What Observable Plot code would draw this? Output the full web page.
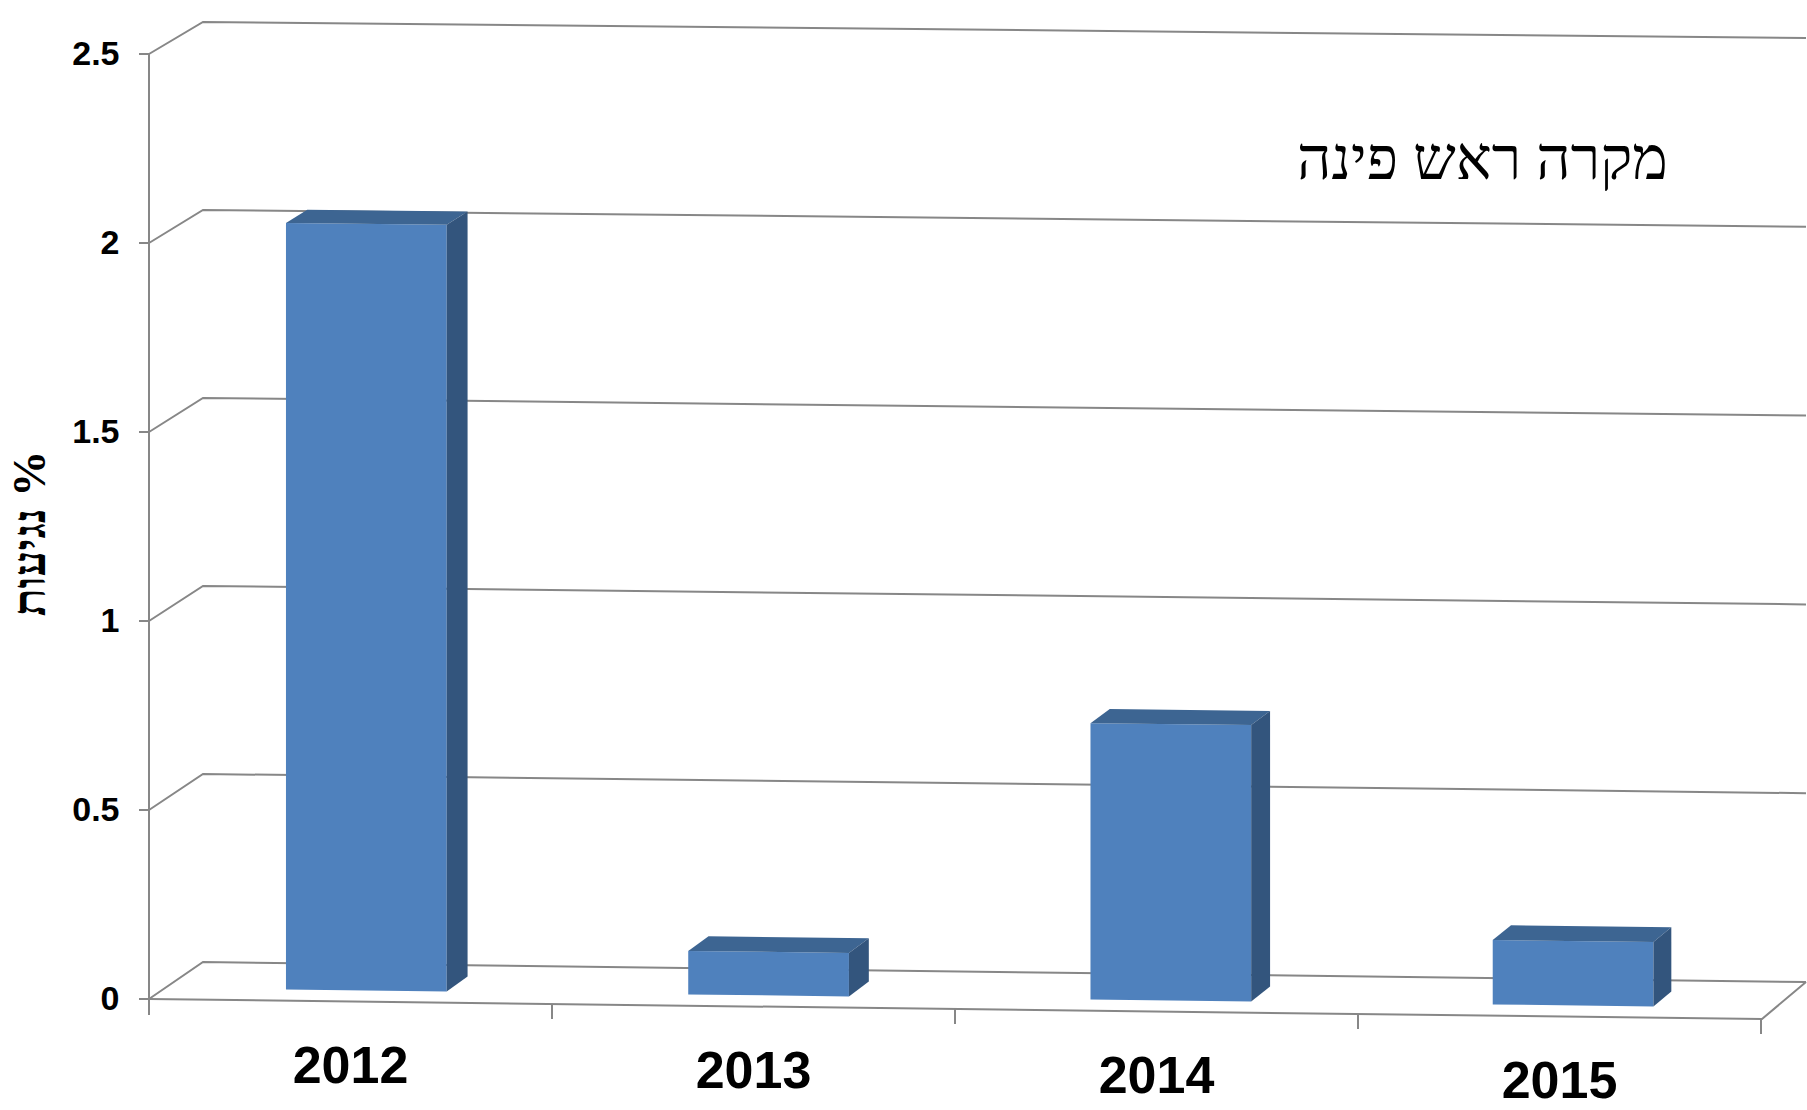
<!DOCTYPE html>
<html><head><meta charset="utf-8">
<script src="https://cdn.jsdelivr.net/npm/d3@7"></script>
<script src="https://cdn.jsdelivr.net/npm/@observablehq/plot@0.6"></script>
<style>html,body{margin:0;padding:0;background:#fff;overflow:hidden}</style>
</head><body><div id="chart"></div>
<script>
// ---- data ----
const years = ["2012", "2013", "2014", "2015"];
const values = [2.03, 0.115, 0.73, 0.17];
const yTicks = [0, 0.5, 1, 1.5, 2, 2.5];
const yTickLabels = ["0", "0.5", "1", "1.5", "2", "2.5"];
const title = "מקרה ראש פינה";
const yLabel = "% נגיעות";

const data = years.map((year, i) => ({year, value: values[i]}));

// ---- style ----
const W = 1807, H = 1110;
const gridColor = "#878787";
const frontFill = "#4f81bd", topFill = "#3d6592", sideFill = "#33557d";
const depth0 = 0.3, depth1 = 0.7;

// pseudo-3D projection from front-plane pixel coords (from the scales)
function makeProj(x, y) {
  const [x0, x1] = x.range();
  const span = x1 - x0;
  return (X, v, d) => {
    const t = (X - x0) / span;
    const ddx = 54 - 10 * t;
    const ddy = -37 + 2 * v;
    const k = 0.0124 - 0.001 * v;
    return [X + d * ddx, y(v) + d * ddy + k * (X - x0)];
  };
}

function scene(index, scales, vals, dims) {
  const x = scales.x ?? d3.scaleBand(years, [dims.marginLeft, dims.width - dims.marginRight]).paddingInner(0.6).paddingOuter(0.3);
  const y = scales.y;
  const P = makeProj(x, y);
  const [x0, x1] = x.range();
  const step = x.step ? x.step() : (x1 - x0) / years.length;
  const bw = x.bandwidth();
  const g = d3.create("svg:g");
  const path = (pts, close) => "M" + pts.map(p => p[0].toFixed(2) + "," + p[1].toFixed(2)).join("L") + (close ? "Z" : "");
  const line = (pts) => g.append("path").attr("d", path(pts)).attr("fill", "none")
    .attr("stroke", gridColor).attr("stroke-width", 2).attr("stroke-linejoin", "miter");

  // side wall diagonals + back wall gridlines
  for (const v of yTicks) line([P(x0, v, 0), P(x0, v, 1), P(x1, v, 1)]);

  // bars
  for (const d of data) {
    const Xl = x(d.year), Xr = Xl + bw, v = d.value;
    g.append("path").attr("fill", frontFill)
      .attr("d", path([P(Xl, 0, depth0), P(Xr, 0, depth0), P(Xr, v, depth0), P(Xl, v, depth0)], true));
    g.append("path").attr("fill", topFill)
      .attr("d", path([P(Xl, v, depth0), P(Xr, v, depth0), P(Xr, v, depth1), P(Xl, v, depth1)], true));
    g.append("path").attr("fill", sideFill)
      .attr("d", path([P(Xr, 0, depth0), P(Xr, v, depth0), P(Xr, v, depth1), P(Xr, 0, depth1)], true));
  }

  // floor front + right edge
  line([P(x0, 0, 0), P(x1, 0, 0), P(x1, 0, 1)]);
  // vertical value axis
  line([[x0, y(yTicks[yTicks.length - 1])], [x0, y(0) + 16]]);
  // value ticks
  for (const v of yTicks) line([[x0 - 10, y(v)], [x0, y(v)]]);
  // category ticks
  for (let i = 1; i <= years.length; i++) {
    const p = P(x0 + i * step, 0, 0);
    line([p, [p[0], p[1] + 15]]);
  }
  // category labels
  for (const yr of years) {
    const p = P(x(yr) + bw / 2, 0, 0);
    g.append("text").attr("x", p[0]).attr("y", p[1] + 82)
      .attr("text-anchor", "middle").attr("font-family", "'Liberation Sans', Arial, sans-serif")
      .attr("font-weight", "bold").attr("font-size", 52).attr("fill", "#000").text(yr);
  }
  // value-axis title (rotated, right-to-left)
  const cy = (dims.marginTop + dims.height - dims.marginBottom) / 2 + 7;
  g.append("text")
    .attr("transform", `translate(${dims.marginLeft - 120},${cy}) rotate(-90)`)
    .attr("text-anchor", "middle").attr("dominant-baseline", "central")
    .attr("direction", "rtl").attr("unicode-bidi", "embed")
    .attr("font-family", "'Liberation Serif', 'DejaVu Serif', serif")
    .attr("font-weight", "bold").attr("font-size", 46).attr("fill", "#000")
    .text(yLabel);
  return g.node();
}

const chart = Plot.plot({
  width: W,
  height: H,
  marginLeft: 149,
  marginRight: 45,
  marginTop: 54,
  marginBottom: 111,
  style: {background: "#fff"},
  x: {type: "band", domain: years, paddingInner: 0.6, paddingOuter: 0.3, axis: null},
  y: {domain: [0, 2.5], axis: null},
  marks: [
    scene,
    Plot.text(yTicks, {
      y: d => d, text: (d, i) => yTickLabels[i], frameAnchor: "left", dx: -30, textAnchor: "end",
      fontSize: 34, fontWeight: "bold", fontFamily: "'Liberation Sans', Arial, sans-serif", fill: "#000"
    }),
    Plot.text([title], {
      text: d => d, frameAnchor: "top-right", dx: -280, dy: 82, textAnchor: "middle",
      fontSize: 60, fontFamily: "'Liberation Serif', 'DejaVu Serif', serif", fill: "#000"
    })
  ]
});
document.getElementById("chart").appendChild(chart);
</script>
</body></html>
